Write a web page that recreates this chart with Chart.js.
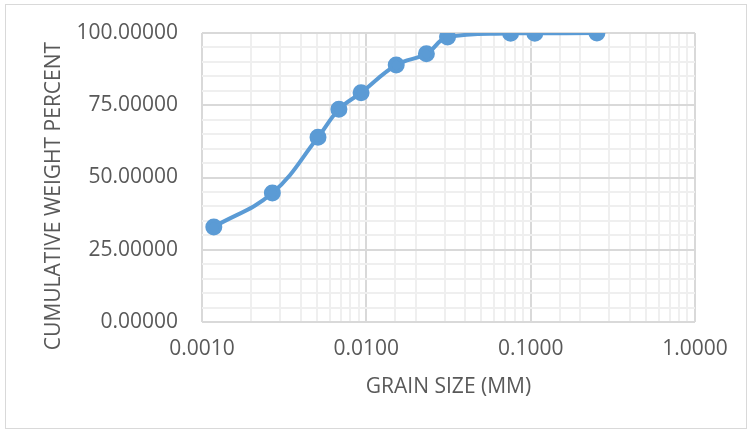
<!DOCTYPE html>
<html>
<head>
<meta charset="utf-8">
<script src="https://cdn.jsdelivr.net/npm/chart.js@4"></script>
<style>
html, body { margin: 0; padding: 0; background: #fff; }
#wrap { position: relative; width: 752px; height: 433px; }
#frame { position: absolute; left: 5px; top: 4px; width: 742px; height: 425px; border: 1px solid #d9d9d9; box-sizing: border-box; pointer-events: none; }
</style>
</head>
<body>
<div id="wrap">
<canvas id="c" width="752" height="433"></canvas>
<div id="frame"></div>
</div>
<script>
// grain size (mm) and cumulative weight percent
var grainSize = [0.00118, 0.00268, 0.00508, 0.00681, 0.00929, 0.0152, 0.0232, 0.0312, 0.0755, 0.106, 0.253];
var cumPercent = [32.9, 44.6, 63.9, 73.6, 79.3, 88.9, 92.8, 98.6, 99.9, 99.9, 100.0];
var xTitle = "GRAIN SIZE (MM)";
var yTitle = "CUMULATIVE WEIGHT PERCENT";

var txt = "#595959";
var fnt = "'Open Sans', sans-serif";

function isDecade(v) {
    var l = Math.log10(v);
    return Math.abs(l - Math.round(l)) < 1e-6;
}

var titles = {
    id: "titles",
    afterDraw: function (ch) {
        var g = ch.ctx;
        var a = ch.chartArea;
        g.save();
        g.fillStyle = txt;
        g.font = "21px " + fnt;
        g.textAlign = "center";
        g.textBaseline = "middle";
        g.fillText(xTitle, (a.left + a.right) / 2, 387);
        g.translate(54, 196);
        g.rotate(-Math.PI / 2);
        g.fillText(yTitle, 0, 0);
        g.restore();
    }
};

var pts = grainSize.map(function (x, i) { return { x: x, y: cumPercent[i] }; });

new Chart(document.getElementById("c"), {
    type: "scatter",
    data: {
        datasets: [{
            data: pts,
            showLine: true,
            borderColor: "#5b9bd5",
            backgroundColor: "#5b9bd5",
            borderWidth: 4,
            pointRadius: 6.5,
            pointHoverRadius: 6.5,
            tension: 0.4
        }]
    },
    plugins: [titles],
    options: {
        responsive: false,
        animation: false,
        layout: { padding: { left: 0, right: 57, top: 33, bottom: 0 } },
        plugins: { legend: { display: false }, tooltip: { enabled: false } },
        scales: {
            x: {
                type: "logarithmic",
                min: 0.001,
                max: 1,
                afterFit: function (s) { s.height = 111; s.paddingLeft = 0; s.paddingRight = 0; },
                border: { display: false },
                grid: {
                    drawTicks: false,
                    lineWidth: 2,
                    color: function (c) {
                        return c.tick && isDecade(c.tick.value) ? "#d9d9d9" : "#efefef";
                    }
                },
                ticks: {
                    autoSkip: false,
                    maxRotation: 0,
                    padding: 14,
                    color: txt,
                    font: { family: fnt, size: 21 },
                    callback: function (v) { return isDecade(v) ? Number(v).toFixed(4) : ""; }
                }
            },
            y: {
                min: 0,
                max: 100,
                afterFit: function (s) { s.width = 202; s.paddingTop = 0; s.paddingBottom = 0; },
                border: { display: false },
                grid: {
                    drawTicks: false,
                    lineWidth: 2,
                    color: function (c) {
                        return c.tick && c.tick.value % 25 === 0 ? "#d9d9d9" : "#efefef";
                    }
                },
                ticks: {
                    stepSize: 5,
                    autoSkip: false,
                    padding: 24,
                    color: txt,
                    font: { family: fnt, size: 21 },
                    callback: function (v) { return v % 25 === 0 ? v.toFixed(5) : ""; }
                }
            }
        }
    }
});
</script>
</body>
</html>
